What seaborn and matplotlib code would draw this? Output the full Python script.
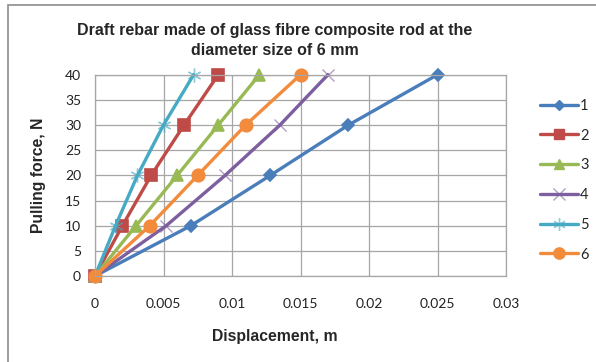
import matplotlib
matplotlib.use("Agg")
import matplotlib.pyplot as plt
import seaborn as sns
import pandas as pd
from matplotlib.patches import Rectangle
from matplotlib.lines import Line2D

# ---- data ----
force = [0, 10, 20, 30, 40]
s1 = [0, 0.007, 0.0128, 0.0185, 0.025]
s2 = [0, 0.002, 0.0041, 0.0065, 0.009]
s3 = [0, 0.003, 0.006, 0.009, 0.012]
s4 = [0, 0.0052, 0.0095, 0.0135, 0.017]
s5 = [0, 0.0015, 0.0031, 0.005, 0.0072]
s6 = [0, 0.004, 0.0075, 0.011, 0.015]
series_names = ["1", "2", "3", "4", "5", "6"]
series_vals = [s1, s2, s3, s4, s5, s6]
x_ticks = [0, 0.005, 0.01, 0.015, 0.02, 0.025, 0.03]
x_tick_labels = ["0", "0.005", "0.01", "0.015", "0.02", "0.025", "0.03"]
y_ticks = [0, 5, 10, 15, 20, 25, 30, 35, 40]

title = "Draft rebar made of glass fibre composite rod at the\ndiameter size of 6 mm"
xlabel = "Displacement, m"
ylabel = "Pulling force, N"

colors = ["#4A7EBB", "#BE4B48", "#98B954", "#7D5FA0", "#46AAC5", "#F38B3C"]
palette = dict(zip(series_names, colors))
markers = {"1": "D", "2": "s", "3": "^", "4": "x", "5": (6, 2, 0), "6": "o"}
msize = {"1": 6, "2": 8, "3": 8, "4": 9, "5": 10, "6": 9}

sns.set_theme(style="white")
plt.rcParams["font.family"] = ["Liberation Sans", "DejaVu Sans"]

fig = plt.figure(figsize=(5.96, 3.62), dpi=100)
ax = fig.add_axes([95 / 596, 1 - 276 / 362, (506 - 95) / 596, (276 - 74.7) / 362])

for name, vals in zip(series_names, series_vals):
    d = pd.DataFrame({"disp": vals, "force": force})
    line_art = name in ("4", "5")
    mec = palette[name] + ("99" if line_art else "")
    sns.lineplot(data=d, x="disp", y="force", color=palette[name], sort=False,
                 linewidth=2.4, marker=markers[name], markersize=msize[name],
                 markeredgecolor=mec, markerfacecolor=palette[name],
                 markeredgewidth=1.0 if line_art else 1.2, ax=ax, clip_on=False)

ax.set_xlim(0, 0.03)
ax.set_ylim(0, 40)
ax.set_xticks(x_ticks)
ax.set_xticklabels(x_tick_labels)
ax.set_yticks(y_ticks)
ax.grid(True, color="#A6A6A6", linewidth=0.9)
ax.set_axisbelow(True)
for sp in ax.spines.values():
    sp.set_color("#A6A6A6")
    sp.set_linewidth(0.9)
ax.tick_params(axis="both", length=0, labelsize=10, colors="#222222")
ax.tick_params(axis="x", pad=16)
ax.tick_params(axis="y", pad=10)
for lab in ax.get_xticklabels() + ax.get_yticklabels():
    lab.set_fontfamily(["Lato", "DejaVu Sans"])
ax.set_xlabel("")
ax.set_ylabel("")

fig.text(275 / 596, 1 - 40.5 / 362, title, ha="center", va="center",
         fontsize=11.5, fontweight="bold", linespacing=1.4)
fig.text(275 / 596, 1 - 337 / 362, xlabel, ha="center", va="center",
         fontsize=11.3, fontweight="bold")
fig.text(38 / 596, 1 - 175 / 362, ylabel, ha="center", va="center",
         rotation=90, fontsize=11.3, fontweight="bold")

# legend
handles = []
for name in series_names:
    mec = palette[name] + ("99" if name in ("4", "5") else "")
    handles.append(Line2D([0], [0], color=palette[name], linewidth=2.4,
                          marker=markers[name], markersize=msize[name] * 0.9,
                          markeredgecolor=mec, markerfacecolor=palette[name]))
leg = fig.legend(handles, series_names, loc="upper left",
                 bbox_to_anchor=(534 / 596, 1 - 93 / 362), frameon=False,
                 fontsize=10.5, handlelength=2.6, handletextpad=0.15,
                 labelspacing=1.08, borderaxespad=0)
for t in leg.get_texts():
    t.set_fontfamily(["Lato", "DejaVu Sans"])

# outer chart border
fig.patches.append(Rectangle((8 / 596, -0.05), 1.2, 1 - 5 / 362 + 0.05,
                             transform=fig.transFigure, fill=False,
                             edgecolor="#8C8C8C", linewidth=1.2, figure=fig))

fig.savefig("out.png", dpi=100)
